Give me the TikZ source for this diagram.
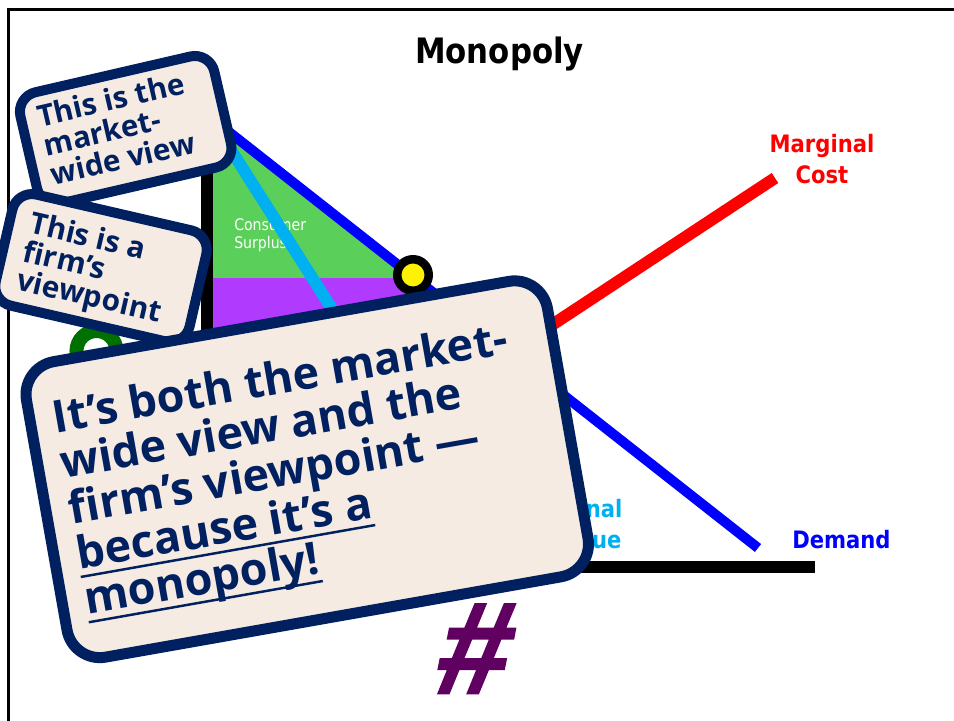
\documentclass[tikz,border=0pt]{standalone}
\usepackage{fontspec}
\setmainfont{Open Sans}
\newfontfamily\callfont{Open Sans}
\newfontfamily\labfont[FakeStretch=0.88]{DejaVu Sans}
\newfontfamily\hashfont[FakeSlant=0.2,FakeBold=2]{Liberation Sans}
\definecolor{navy}{RGB}{0,32,96}
\definecolor{callfill}{RGB}{246,235,226}
\definecolor{csgreen}{RGB}{90,208,90}
\definecolor{profit}{RGB}{177,58,255}
\definecolor{mrcyan}{RGB}{0,176,240}
\definecolor{ringgreen}{RGB}{0,112,0}
\definecolor{hashpurple}{RGB}{96,0,96}
\newcommand\myul[1]{\setbox0\hbox{#1}\rlap{\rule[-0.2em]{\wd0}{0.055em}}\box0}
\begin{document}
\begin{tikzpicture}[x=0.75pt,y=-0.75pt,
  lab/.style={inner sep=0, font=\labfont\bfseries\fontsize{18}{23}\selectfont},
  cstxt/.style={inner sep=0, text=white, font=\labfont\fontsize{12}{13.5}\selectfont},
  curve/.style={line cap=butt},
  callbox/.style={draw=navy, fill=callfill},
  smalltext/.style={inner sep=0, text=navy, font=\callfont\bfseries\fontsize{22.3}{22.5}\selectfont},
  bigtext/.style={inner sep=0, text=navy, font=\callfont\bfseries\fontsize{33.7}{34.5}\selectfont}]
\useasboundingbox (0,0) rectangle (954,721);
\fill[white] (0,0) rectangle (954,721);
% frame
\draw[line width=2.25pt] (8.3,721) -- (8.3,9) -- (954,9);
% title
\node[inner sep=0, anchor=base, font=\labfont\bfseries\fontsize{26.25}{30}\selectfont] (title) at (499.5,63) {Monopoly};
% coordinates
\coordinate (dtop) at (210,117);
\coordinate (dend) at (758,548);
\coordinate (mrend) at (496,567);
\coordinate (mcstart) at (350,458);
\coordinate (mcend) at (775,178);
\coordinate (vtop) at (207,105);
\coordinate (origin) at (207,567);
\coordinate (hend) at (815,567);
% areas
\fill[csgreen] (213,119) -- (415,278) -- (213,278) -- cycle;
\fill[profit] (213,278) rectangle (413,345);
\node[cstxt, anchor=base west] (cs1) at (234,230) {Consumer};
\node[cstxt, anchor=base west] (cs2) at (234,248) {Surplus};
% axes
\draw[line width=9.4pt] (vtop) -- (origin);
\draw[line width=9.4pt] ([xshift=-4.7pt]origin) -- (hend);
% curves
\draw[curve, red, line width=9pt] (mcstart) -- (mcend);
\draw[curve, mrcyan, line width=9pt] (dtop) -- (mrend);
\draw[curve, blue, line width=7.5pt] (dtop) -- (dend);
\node[circle, draw=black, fill=yellow, line width=6.4pt, minimum size=23.6pt, inner sep=0] (pm) at (413,275) {};
% labels
\node[lab, red, anchor=base] (mc1) at (822,152) {Marginal};
\node[lab, red, anchor=base] (mc2) at (822,183) {Cost};
\node[lab, blue, anchor=base west] (dem) at (792,548) {Demand};
\node[lab, mrcyan, anchor=base] (mr1) at (570,517) {Marginal};
\node[lab, mrcyan, anchor=base] (mr2) at (570,548) {Revenue};
\node[inner sep=0, anchor=base, text=hashpurple, font=\hashfont\bfseries\fontsize{97.5}{100}\selectfont] (hash) at (468,693) {\#};
% partly hidden dark green mark
\draw[ringgreen, line width=10.5pt, fill=white] (96.5,351) circle[radius=20];
% callout A
\begin{scope}[shift={(125.7,129.9)}, rotate=13, transform shape]
\draw[callbox, line width=7.5pt, rounded corners=15pt] (-99.5,-57) rectangle (99.5,57);
\node[smalltext, anchor=base west] (a1) at (-83,-22) {This is the};
\node[smalltext, anchor=base west] (a2) at (-83,8) {market-};
\node[smalltext, anchor=base west] (a3) at (-83,38) {wide view};
\end{scope}
% callout B
\begin{scope}[shift={(101,268)}, rotate=-13, transform shape]
\draw[callbox, line width=7.5pt, rounded corners=15pt] (-99.5,-57) rectangle (99.5,57);
\node[smalltext, anchor=base west] (b1) at (-79,-18) {This is a};
\node[smalltext, anchor=base west] (b2) at (-79,11) {firm’s};
\node[smalltext, anchor=base west] (b3) at (-79,40) {viewpoint};
\end{scope}
% callout C
\begin{scope}[shift={(307.25,469.25)}, rotate=10, transform shape]
\draw[callbox, line width=8.25pt, rounded corners=25pt] (-264.5,-150) rectangle (264.5,150);
\node[bigtext, anchor=base west] (c1) at (-242,-79) {It’s both the market-};
\node[bigtext, anchor=base west] (c2) at (-242,-33) {wide view and the};
\node[bigtext, anchor=base west] (c3) at (-242,13) {firm’s viewpoint —};
\node[bigtext, anchor=base west] (c4) at (-242,59) {\myul{because it’s a}};
\node[bigtext, anchor=base west] (c5) at (-242,105) {\myul{monopoly!}};
\end{scope}
\end{tikzpicture}
\end{document}
